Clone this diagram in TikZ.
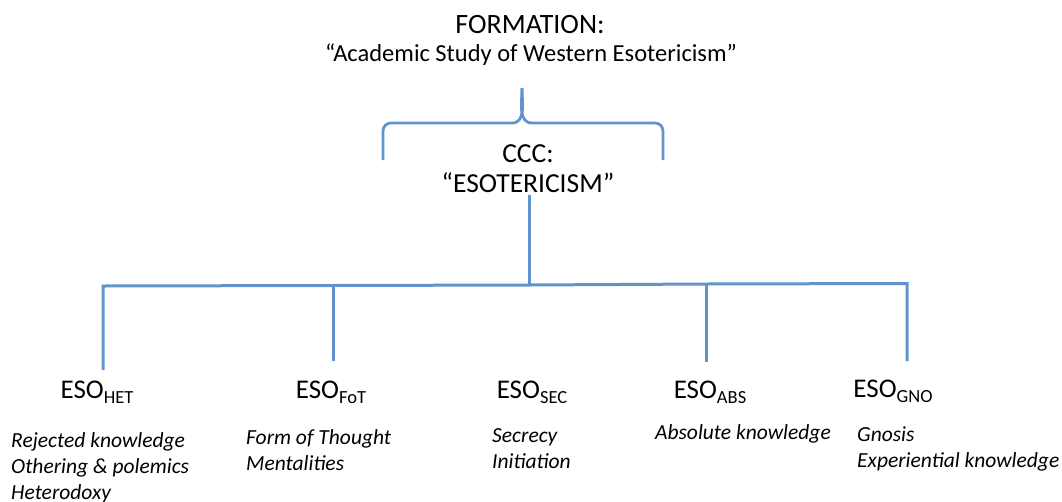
\documentclass[tikz,border=0pt]{standalone}
\usepackage{fontspec}
\setmainfont{Carlito}
\definecolor{lineblue}{RGB}{98,148,204}
\newcommand{\esosub}[1]{\raisebox{-5pt}{\fontsize{18.5}{20}\selectfont #1}}
\begin{document}
\begin{tikzpicture}[x=1pt,y=-1pt,
  tree/.style={draw=lineblue,line width=3pt,line join=miter},
  title/.style={inner sep=0pt,anchor=base},
  eso/.style={font=\fontsize{27}{30}\selectfont,inner sep=0pt,anchor=base},
  desc/.style={font=\fontsize{21.5}{25.5}\selectfont\itshape,inner sep=0pt,anchor=base west}]
\useasboundingbox (0,0) rectangle (1062,501);
\node[title,font=\fontsize{28}{30}\selectfont] (t1) at (530,33) {FORMATION:};
\node[title,font=\fontsize{24.5}{28}\selectfont] (t2) at (531,61) {“Academic Study of Western Esotericism”};
\node[title,font=\fontsize{27.5}{30}\selectfont] (c1) at (528,162) {CCC:};
\node[title,font=\fontsize{27.5}{30}\selectfont] (c2) at (528,192) {“ESOTERICISM”};
% brace
\coordinate (bl) at (383,160);
\coordinate (br) at (663,160);
\coordinate (bt) at (522,88);
\draw[tree,line width=2.8pt] (bl) -- (383,131) to[out=90,in=180] (391,123) -- (512,123)
  to[out=0,in=-90] (bt);
\draw[tree,line width=2.8pt] (br) -- (663,131) to[out=90,in=0] (655,123) -- (532,123)
  to[out=180,in=-90] (bt);
% tree
\coordinate (top) at (529,195);
\coordinate (mid) at (529,285);
\coordinate (h1) at (103,286);
\coordinate (h2) at (333,285.5);
\coordinate (h4) at (706,284);
\coordinate (h5) at (907,283.5);
\node[eso] (e1) at (97,398) {ESO\esosub{HET}};
\node[eso] (e2) at (331,398) {ESO\esosub{FoT}};
\node[eso] (e3) at (532,398) {ESO\esosub{SEC}};
\node[eso] (e4) at (710,398) {ESO\esosub{ABS}};
\node[eso] (e5) at (893,397) {ESO\esosub{GNO}};
\coordinate (v1) at (103,370);
\coordinate (v2) at (333,361);
\coordinate (v4) at (706,362);
\coordinate (v5) at (907,361);
\draw[tree] (top) -- (mid);
\draw[tree] (v1) -- (h1) -- (h2) -- (mid) -- (h4) -- (h5) -- (v5);
\draw[tree] (h2) -- (v2);
\draw[tree] (h4) -- (v4);
\node[desc] (d1a) at (11,447) {Rejected knowledge};
\node[desc] (d1b) at (11,473) {Othering \& polemics};
\node[desc] (d1c) at (11,499) {Heterodoxy};
\node[desc] (d2a) at (246,444) {Form of Thought};
\node[desc] (d2b) at (246,470) {Mentalities};
\node[desc] (d3a) at (492,442) {Secrecy};
\node[desc] (d3b) at (492,468) {Initiation};
\node[desc] (d4) at (655,439) {Absolute knowledge};
\node[desc] (d5a) at (857,441) {Gnosis};
\node[desc] (d5b) at (857,467) {Experiential knowledge};
\end{tikzpicture}
\end{document}
